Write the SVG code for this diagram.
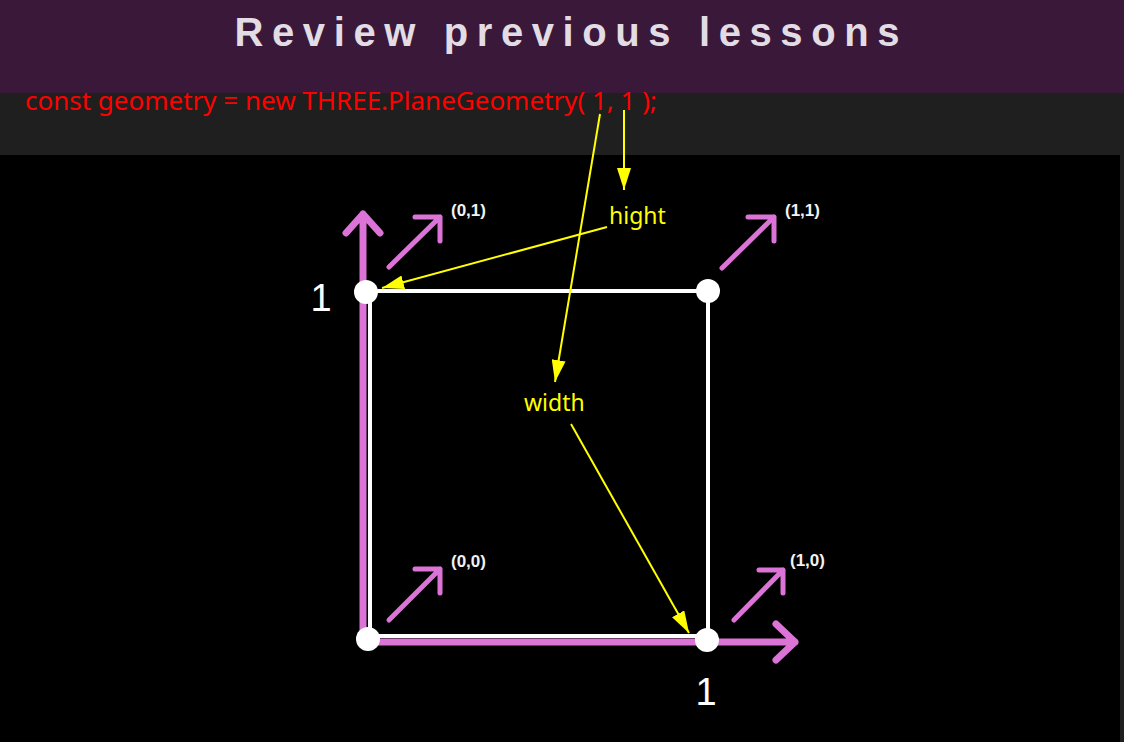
<svg xmlns="http://www.w3.org/2000/svg" width="1124" height="742" viewBox="0 0 1124 742">
<style>
.pink{stroke:#dc74d8;fill:none;stroke-linecap:round;stroke-linejoin:round}
.axis{stroke-width:7}
.vec{stroke-width:5}
.edge{stroke:#ffffff;stroke-width:4;fill:none}
.dot{fill:#ffffff}
.coord{font-family:"Liberation Sans",Arial,sans-serif;font-weight:bold;font-size:17px;fill:#f2f2f2}
.one{font-family:"Liberation Sans",Arial,sans-serif;font-size:38px;fill:#ffffff}
.ylab{font-family:"Noto Sans","Open Sans",sans-serif;font-size:23px;fill:#ffff00}
.yline{stroke:#ffff00;stroke-width:2;fill:none}
</style>
<defs>
<marker id="ya" markerWidth="22" markerHeight="14" refX="22" refY="7" orient="auto" markerUnits="userSpaceOnUse">
<path d="M0,0 L22,7 L0,14 Z" fill="#ffff00"/>
</marker>
</defs>
<rect x="0" y="0" width="1124" height="742" fill="#1f1f1f"/>
<rect x="0" y="0" width="1124" height="93" fill="#3a1839"/>
<rect x="0" y="155" width="1120" height="587" fill="#000000"/>
<text id="title" x="567" y="46" text-anchor="middle" font-family="'Liberation Sans',Arial,sans-serif" font-weight="bold" font-size="40" fill="#e2dce4" textLength="665" lengthAdjust="spacing">Review previous lessons</text>
<text id="code" x="25" y="110" font-family="'Noto Sans','Open Sans',sans-serif" font-size="25" fill="#ff0000" textLength="632" lengthAdjust="spacingAndGlyphs">const geometry = new THREE.PlaneGeometry( 1, 1 );</text>

<g id="axes">
<path class="pink axis" d="M363,640 L363,214 M346,233 L363,214 L380,233"/>
<path class="pink axis" d="M364,642 L795,642 M776,624 L795,642 L776,660"/>
</g>
<g id="square">
<path class="edge" d="M370,291 L708,291 L708,636 L370,636 Z"/>
</g>
<g id="v01"><path class="pink vec" d="M389,267 L440,217 M415,217 L440,217 L440,241"/><text class="coord" x="451" y="216">(0,1)</text></g>
<g id="v11"><path class="pink vec" d="M722,268 L774,217 M748,217 L774,217 L774,241"/><text class="coord" x="785" y="216">(1,1)</text></g>
<g id="v00"><path class="pink vec" d="M389,620 L440,569 M415,569 L440,569 L440,593"/><text class="coord" x="451" y="567">(0,0)</text></g>
<g id="v10"><path class="pink vec" d="M734,620 L783,570 M759,570 L783,570 L783,593"/><text class="coord" x="790" y="566">(1,0)</text></g>
<g id="p01"><circle class="dot" cx="366" cy="292" r="12"/></g>
<g id="p11"><circle class="dot" cx="708" cy="291" r="12"/></g>
<g id="p00"><circle class="dot" cx="368" cy="639" r="12"/></g>
<g id="p10"><circle class="dot" cx="707" cy="640" r="12"/></g>
<text id="one-y" class="one" x="321" y="311" text-anchor="middle">1</text>
<text id="one-x" class="one" x="706" y="705" text-anchor="middle">1</text>

<g id="hight"><text class="ylab" x="609" y="224">hight</text></g>
<g id="width"><text class="ylab" x="524" y="411">width</text></g>
<g id="connectors">
<line class="yline" x1="624" y1="110" x2="624" y2="190" marker-end="url(#ya)"/>
<line class="yline" x1="600" y1="114" x2="555" y2="382" marker-end="url(#ya)"/>
<line class="yline" x1="607" y1="227" x2="382" y2="288" marker-end="url(#ya)"/>
<line class="yline" x1="571" y1="424" x2="689" y2="633" marker-end="url(#ya)"/>
</g>
</svg>
